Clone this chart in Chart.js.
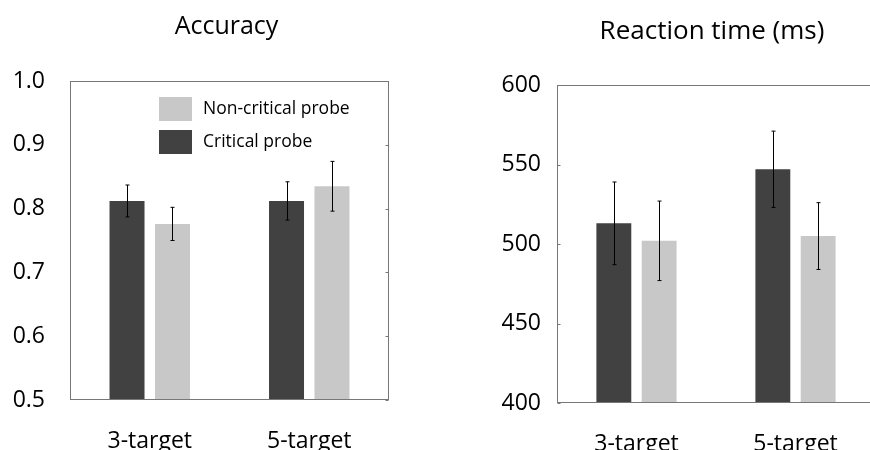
<!DOCTYPE html>
<html>
<head>
<meta charset="utf-8">
<script src="https://cdn.jsdelivr.net/npm/chart.js@4/dist/chart.umd.min.js"></script>
<style>
    html, body { margin: 0; padding: 0; background: #fff; }
    body { width: 870px; height: 450px; overflow: hidden; position: relative; }
    .panel { position: absolute; top: 0; height: 450px; }
</style>
</head>
<body>
<div class="panel" style="left:0px; width:453px;"><canvas id="accChart"></canvas></div>
<div class="panel" style="left:480px; width:464px;"><canvas id="rtChart"></canvas></div>

<script>
// values
const categories = ['3-target', '5-target'];
const seriesNames = ['Critical probe', 'Non-critical probe'];

const accCritical = [0.812, 0.812];
const accCriticalErr = [0.025, 0.030];
const accNonCritical = [0.776, 0.835];
const accNonCriticalErr = [0.026, 0.039];

const rtCritical = [513, 547];
const rtCriticalErr = [26, 24];
const rtNonCritical = [502, 505];
const rtNonCriticalErr = [25, 21];

const darkGrey = '#414141';
const lightGrey = '#c8c8c8';
const frameGrey = '#777777';
const fontName = "'Open Sans', sans-serif";

// error bars drawn from the dataset's err array through the y scale
const errorBars = {
    id: 'errorBars',
    afterDatasetsDraw(chart) {
        const ctx = chart.ctx;
        const yScale = chart.scales.y;
        ctx.save();
        ctx.strokeStyle = '#000';
        ctx.lineWidth = 1;
        chart.data.datasets.forEach((ds, i) => {
            const meta = chart.getDatasetMeta(i);
            meta.data.forEach((bar, j) => {
                const v = ds.data[j];
                const e = ds.err[j];
                const x = Math.round(bar.x) + 0.5;
                const yTop = yScale.getPixelForValue(v + e);
                const yBot = yScale.getPixelForValue(v - e);
                ctx.beginPath();
                ctx.moveTo(x, yTop);
                ctx.lineTo(x, yBot);
                ctx.moveTo(x - 2, yTop);
                ctx.lineTo(x + 2, yTop);
                ctx.moveTo(x - 2, yBot);
                ctx.lineTo(x + 2, yBot);
                ctx.stroke();
            });
        });
        ctx.restore();
    }
};

// box round the plot area, with short inward tick marks on one side
const boxFrame = {
    id: 'boxFrame',
    afterDraw(chart, args, opts) {
        const ctx = chart.ctx;
        const a = chart.chartArea;
        const yScale = chart.scales.y;
        ctx.save();
        ctx.strokeStyle = frameGrey;
        ctx.lineWidth = 1;
        const l = Math.round(a.left) + 0.5, r = Math.round(a.right) - 0.5;
        const t = Math.round(a.top) + 0.5, b = Math.round(a.bottom) - 0.5;
        ctx.strokeRect(l, t, r - l, b - t);
        ctx.beginPath();
        yScale.ticks.forEach(tk => {
            const y = Math.round(yScale.getPixelForValue(tk.value)) + 0.5;
            if (opts.side === 'right') {
                ctx.moveTo(r, y);
                ctx.lineTo(r - 3, y);
            } else {
                ctx.moveTo(l, y);
                ctx.lineTo(l + 3, y);
            }
        });
        ctx.stroke();
        ctx.restore();
    }
};

// legend inside the accuracy plot, light series first
const innerLegend = {
    id: 'innerLegend',
    afterDraw(chart, args, opts) {
        if (!opts.show) return;
        const ctx = chart.ctx;
        const a = chart.chartArea;
        const items = chart.data.datasets.slice().reverse();
        ctx.save();
        ctx.font = '17.5px ' + fontName;
        ctx.textBaseline = 'middle';
        items.forEach((ds, i) => {
            const x = a.left + 89;
            const y = a.top + 16 + i * 33;
            ctx.fillStyle = ds.backgroundColor;
            ctx.fillRect(x, y, 33, 24);
            ctx.fillStyle = '#000';
            ctx.fillText(ds.label, x + 44, y + 12);
        });
        ctx.restore();
    }
};

function makeChart(id, opts) {
    return new Chart(document.getElementById(id), {
        type: 'bar',
        data: {
            labels: categories,
            datasets: [{
                label: seriesNames[0],
                data: opts.critical,
                err: opts.criticalErr,
                backgroundColor: darkGrey
            }, {
                label: seriesNames[1],
                data: opts.nonCritical,
                err: opts.nonCriticalErr,
                backgroundColor: lightGrey
            }]
        },
        plugins: [errorBars, boxFrame, innerLegend],
        options: {
            responsive: true,
            maintainAspectRatio: false,
            animation: false,
            categoryPercentage: 0.57,
            barPercentage: 0.77,
            layout: { padding: 0 },
            plugins: {
                legend: { display: false },
                tooltip: { enabled: false },
                title: {
                    display: true,
                    text: opts.title,
                    color: '#000',
                    font: { family: fontName, size: opts.titleSize, weight: 'normal' },
                    padding: opts.titlePadding
                },
                boxFrame: { side: opts.tickSide },
                innerLegend: { show: opts.legend }
            },
            scales: {
                x: {
                    grid: { display: false },
                    border: { display: false },
                    ticks: {
                        color: '#000',
                        padding: opts.xPad,
                        font: { family: fontName, size: 23 }
                    },
                    afterFit(scale) { scale.height = opts.xHeight; }
                },
                y: {
                    min: opts.min,
                    max: opts.max,
                    grid: { display: false },
                    border: { display: false },
                    ticks: {
                        stepSize: opts.step,
                        color: '#000',
                        padding: opts.yPad,
                        font: { family: fontName, size: 23 },
                        callback: opts.fmt
                    },
                    afterFit(scale) { scale.width = opts.yWidth; }
                },
                // empty spacer on the right so the title centres like the original
                spacer: {
                    type: 'linear',
                    position: 'right',
                    grid: { display: false },
                    border: { display: false },
                    ticks: { display: false },
                    afterFit(scale) { scale.width = opts.spacer; }
                }
            }
        }
    });
}

makeChart('accChart', {
    title: 'Accuracy', titleSize: 25,
    critical: accCritical, criticalErr: accCriticalErr,
    nonCritical: accNonCritical, nonCriticalErr: accNonCriticalErr,
    min: 0.5, max: 1.0, step: 0.1,
    fmt: v => v.toFixed(1),
    titlePadding: { top: 12, bottom: 39 },
    yWidth: 70, yPad: 17, spacer: 64, xHeight: 50, xPad: 20,
    tickSide: 'right', legend: true
});

makeChart('rtChart', {
    title: 'Reaction time (ms)', titleSize: 26,
    critical: rtCritical, criticalErr: rtCriticalErr,
    nonCritical: rtNonCritical, nonCriticalErr: rtNonCriticalErr,
    min: 400, max: 600, step: 50,
    fmt: v => v,
    titlePadding: { top: 16, bottom: 37.8 },
    yWidth: 77, yPad: 8, spacer: 69, xHeight: 47, xPad: 20,
    tickSide: 'left', legend: false
});
</script>
</body>
</html>
